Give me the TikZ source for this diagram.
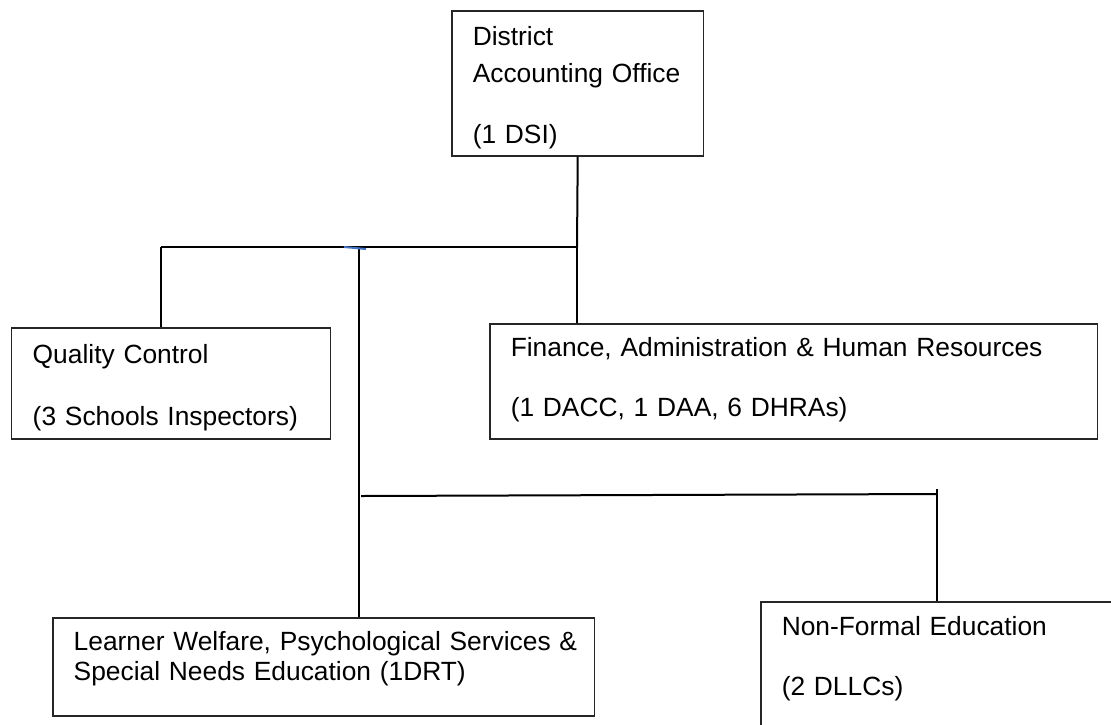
\documentclass[tikz,border=0pt]{standalone}
\usepackage{fontspec}
\setmainfont{Liberation Sans}
\usetikzlibrary{positioning,calc}
\definecolor{LinkBlue}{RGB}{68,114,196}
\newcommand\unitfont{\fontsize{15}{17.1}\selectfont}
\newcommand\topgap[1]{\rule{0pt}{#1}}
\newcommand\botgap[1]{\rule[-#1]{0pt}{#1}}
\tikzset{
  unit/.style={draw=black!85,line width=0.03cm,anchor=north west,align=left,
    inner xsep=0.42cm,inner ysep=0pt,font=\unitfont},
  link/.style={draw=black,line width=0.04cm},
  tick/.style={draw=LinkBlue,line width=0.04cm},
}

\begin{document}
\begin{tikzpicture}[x=0.02cm,y=-0.02cm]
\useasboundingbox (0,0) rectangle (1111,724);
\clip (0,0) rectangle (1111,724);
\node[unit,text width=4.2cm] (office) at (451,10)
  {\topgap{0.70cm}District\\[0.14cm]\mbox{Accounting Office}\\[0.62cm](1 DSI)\botgap{0.24cm}};
\node[unit,text width=5.54cm] (qc) at (11,327)
  {\topgap{0.72cm}Quality Control\\[0.64cm](3 Schools Inspectors)\botgap{0.26cm}};
\node[unit,text width=11.32cm] (fin) at (489,323)
  {\topgap{0.66cm}Finance, Administration \& Human Resources\\[0.6cm](1 DACC, 1 DAA, 6 DHRAs)\botgap{0.44cm}};
\node[unit,text width=10.0cm] (lw) at (52,617)
  {\topgap{0.66cm}\mbox{Learner Welfare, Psychological Services \&}\\Special Needs Education (1DRT)\botgap{0.7cm}};
\node[unit,text width=6.46cm] (nfe) at (760,601)
  {\topgap{0.68cm}Non-Formal Education\\[0.6cm](2 DLLCs)\botgap{0.9cm}};
\coordinate (busw) at (161,247);
\coordinate (buse) at (577,247);
\coordinate (busm) at (359,247);
\coordinate (lowerw) at (361,496);
\coordinate (lowere) at (937,494);
\coordinate (nfetop) at (937,489);
\draw[link] (office.south) -- (buse);
\draw[link] (busw) -- (buse);
\draw[link] (busw) -- (busw |- qc.north);
\draw[link] (buse) -- (buse |- fin.north);
\draw[link] (busm) -- (busm |- lw.north);
\draw[link] (lowerw) -- (lowere);
\draw[link] (nfetop) -- (nfetop |- nfe.north);
\draw[tick] (344,247) -- (366,249);
\end{tikzpicture}
\end{document}
